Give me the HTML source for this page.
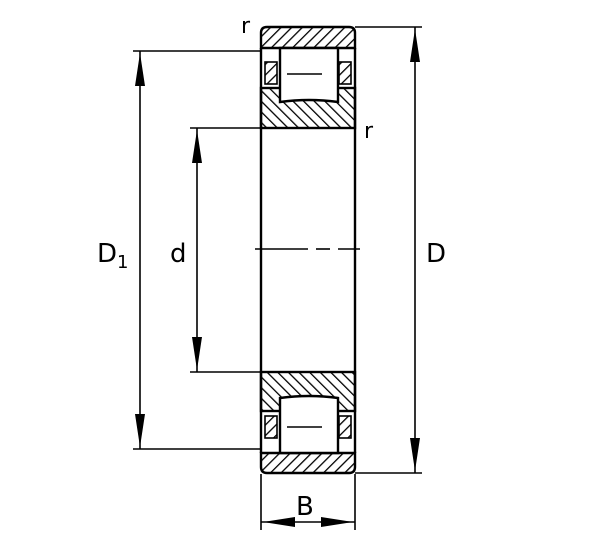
<!DOCTYPE html>
<html><head><style>body{margin:0;background:#fff}svg{display:block}</style></head><body>
<svg width="600" height="541" viewBox="0 0 600 541" xmlns="http://www.w3.org/2000/svg">
<defs>
<pattern id="h1" patternUnits="userSpaceOnUse" width="7.5" height="7.5" patternTransform="rotate(45)"><rect width="7.5" height="7.5" fill="#fff"/><line x1="0" y1="0" x2="0" y2="7.5" stroke="#000" stroke-width="2.6"/></pattern>
<pattern id="h2" patternUnits="userSpaceOnUse" width="7.5" height="7.5" patternTransform="rotate(-45)"><rect width="7.5" height="7.5" fill="#fff"/><line x1="0" y1="0" x2="0" y2="7.5" stroke="#000" stroke-width="2.6"/></pattern>
</defs>
<g stroke="#000" stroke-width="1.6" fill="none">
<line x1="133" y1="51" x2="261" y2="51"/><line x1="133" y1="449" x2="261" y2="449"/>
<line x1="190" y1="128" x2="261" y2="128"/><line x1="190" y1="372" x2="261" y2="372"/>
<line x1="355" y1="27" x2="422" y2="27"/><line x1="355" y1="473" x2="422" y2="473"/>
<line x1="261" y1="474" x2="261" y2="530"/><line x1="355" y1="474" x2="355" y2="530"/>
<line x1="140" y1="51" x2="140" y2="449"/><line x1="197" y1="128" x2="197" y2="372"/>
<line x1="415" y1="27" x2="415" y2="473"/><line x1="261" y1="522" x2="355" y2="522"/>
<line x1="255" y1="249" x2="308" y2="249"/><line x1="316" y1="249" x2="330" y2="249"/><line x1="338" y1="249" x2="360" y2="249"/>
</g>
<g fill="#000">
<polygon points="140,53 135,86 145,86"/><polygon points="140,447 135,414 145,414"/>
<polygon points="197,130 192,163 202,163"/><polygon points="197,370 192,337 202,337"/>
<polygon points="415,29 410,62 420,62"/><polygon points="415,471 410,438 420,438"/>
<polygon points="263,522 295,517 295,527"/><polygon points="353,522 321,517 321,527"/>
</g>
<g stroke="#000" stroke-width="2.4" fill="none">
<line x1="261" y1="128" x2="261" y2="372"/><line x1="355" y1="128" x2="355" y2="372"/>
</g>
<g stroke="#000" stroke-width="2.4">
<path d="M261,48 V33 Q261,27 267,27 H349 Q355,27 355,33 V48 Z" fill="url(#h1)"/>
<rect x="261" y="88" width="94" height="40" fill="url(#h2)"/>
<path d="M280,48 H338 V102 Q309,98 280,102 Z" fill="#fff"/>
<rect x="265" y="62" width="12" height="22" fill="url(#h1)" stroke-width="1.6"/>
<rect x="339" y="62" width="12" height="22" fill="url(#h1)" stroke-width="1.6"/>
<line x1="261" y1="48" x2="261" y2="128"/><line x1="355" y1="48" x2="355" y2="128"/>
</g>
<line x1="287" y1="74" x2="322" y2="74" stroke="#000" stroke-width="1.4"/>
<g stroke="#000" stroke-width="2.4">
<rect x="261" y="372" width="94" height="39" fill="url(#h2)"/>
<path d="M261,453 V467 Q261,473 267,473 H349 Q355,473 355,467 V453 Z" fill="url(#h1)"/>
<path d="M280,453 H338 V398 Q309,394 280,398 Z" fill="#fff"/>
<rect x="265" y="416" width="12" height="22" fill="url(#h1)" stroke-width="1.6"/>
<rect x="339" y="416" width="12" height="22" fill="url(#h1)" stroke-width="1.6"/>
<line x1="261" y1="372" x2="261" y2="453"/><line x1="355" y1="372" x2="355" y2="453"/>
</g>
<line x1="287" y1="427" x2="322" y2="427" stroke="#000" stroke-width="1.4"/>
<g font-family="DejaVu Sans, Liberation Sans, sans-serif" fill="#000">
<text x="97" y="262" font-size="26">D</text><text x="117" y="268" font-size="18">1</text>
<text x="170" y="262" font-size="26">d</text>
<text x="426" y="262" font-size="26">D</text>
<text x="296" y="515" font-size="26">B</text>
<text x="241" y="33" font-size="22">r</text>
<text x="364" y="138" font-size="22">r</text>
</g>
</svg>
</body></html>
